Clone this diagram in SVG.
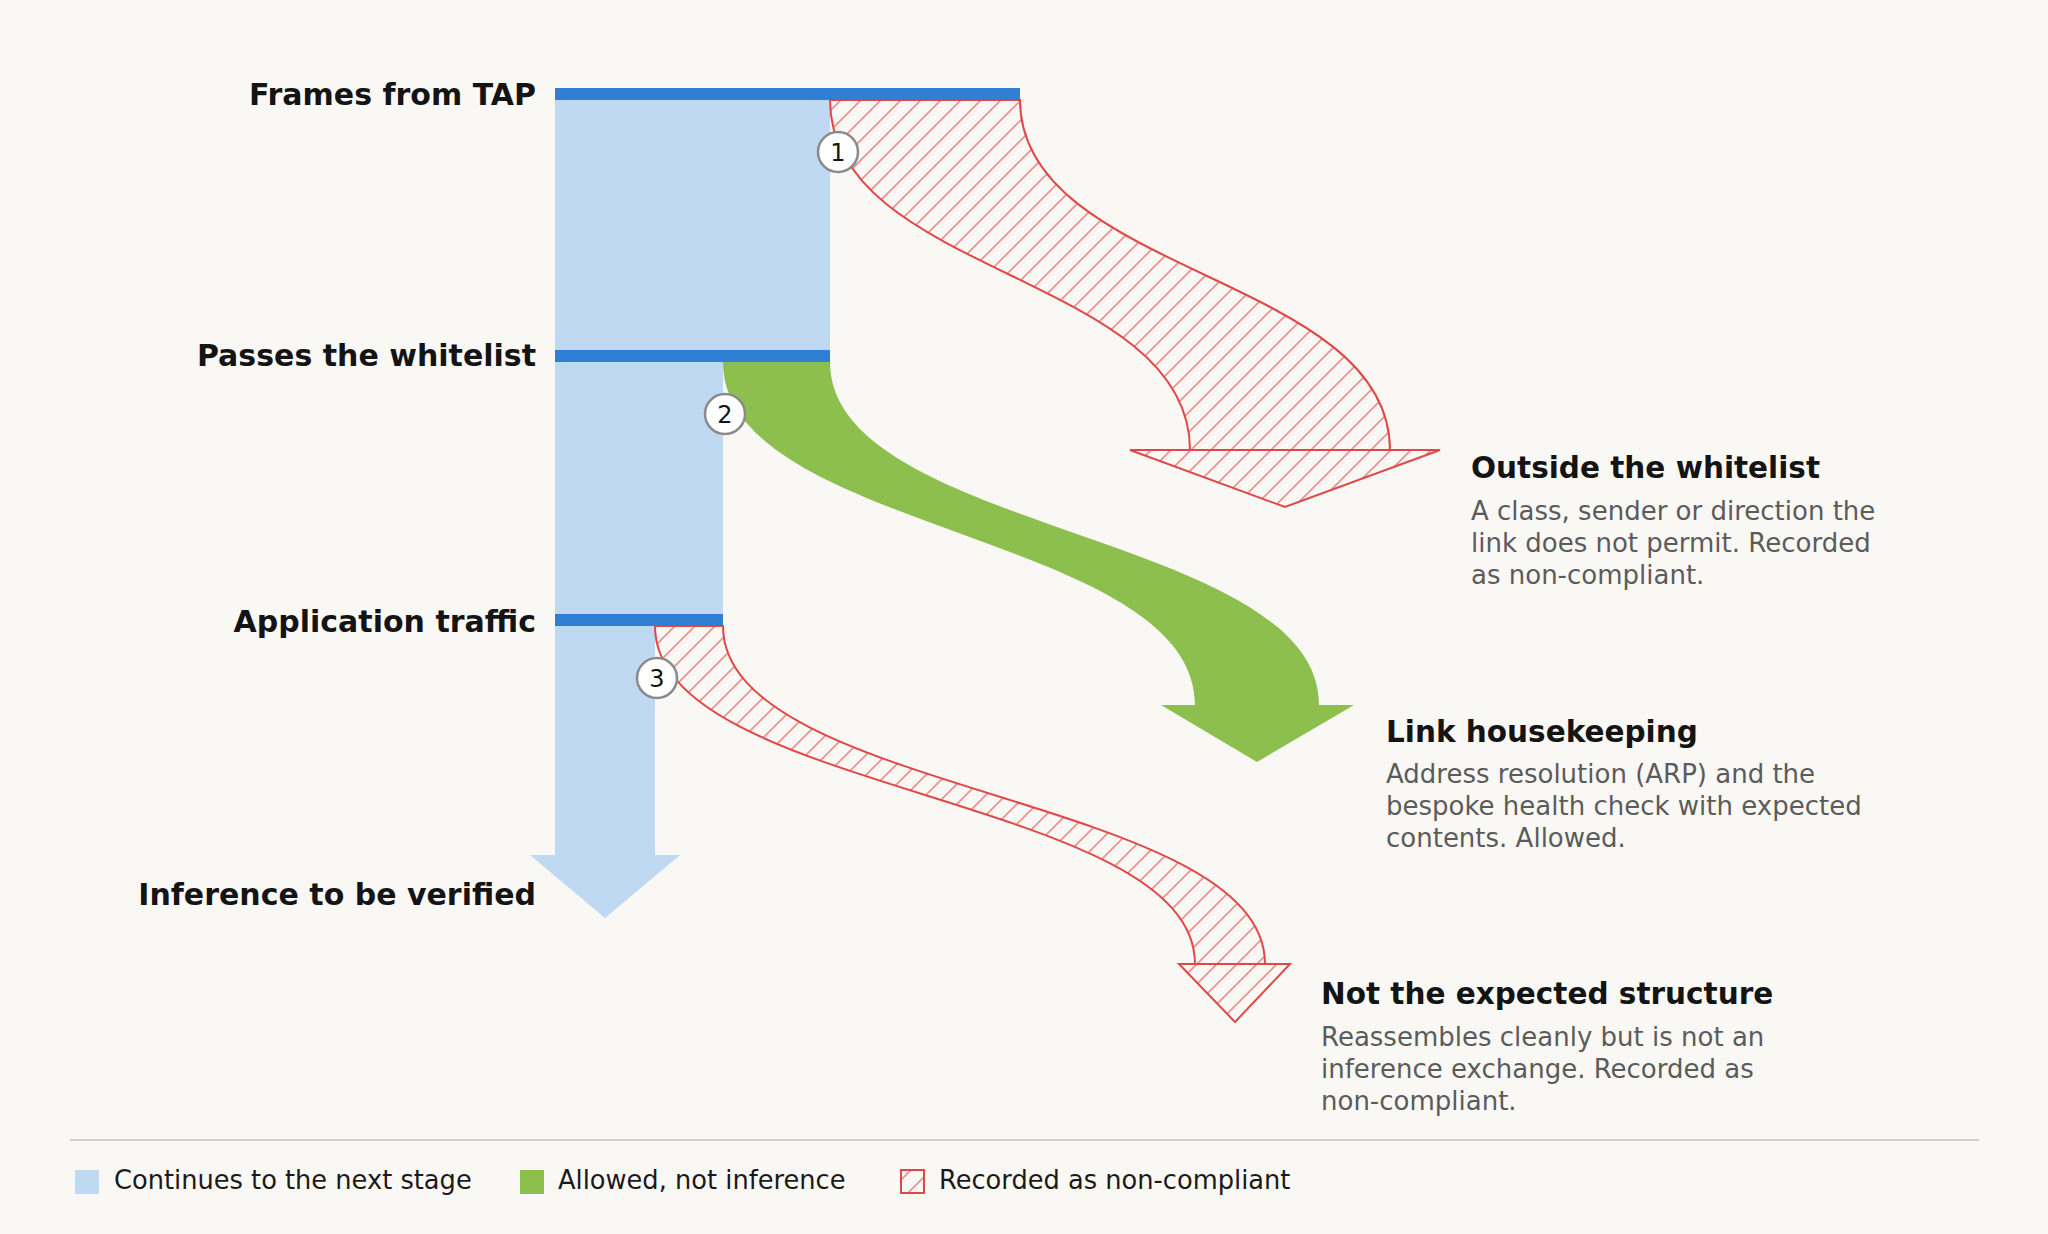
<svg xmlns="http://www.w3.org/2000/svg" width="2048" height="1234" viewBox="0 0 2048 1234">
  <defs>
    <pattern id="hatch" patternUnits="userSpaceOnUse" width="14.142" height="14.142" patternTransform="rotate(45)">
      <rect x="0" y="0" width="1.3" height="14.142" fill="#e76a6a"/>
    </pattern>
    <style>
      .lbl { font-family: "DejaVu Sans", Verdana, sans-serif; font-weight: bold; font-size: 30px; fill: #141414; }
      .title { font-family: "DejaVu Sans", Verdana, sans-serif; font-weight: bold; font-size: 29.5px; fill: #141414; }
      .desc { font-family: "DejaVu Sans", Verdana, sans-serif; font-size: 26px; fill: #5b5b5b; }
      .leg { font-family: "DejaVu Sans", Verdana, sans-serif; font-size: 25.7px; fill: #1a1a1a; }
      .num { font-family: "DejaVu Sans", Verdana, sans-serif; font-size: 24px; fill: #141414; text-anchor: middle; }
      .badge { fill: #ffffff; stroke: #8a8a8a; stroke-width: 2.5; }
      .bar { fill: #2f7fd4; }
      .pass { fill: #bfd9f3; }
      .ok { fill: #8cbf4d; }
      .bad { fill: url(#hatch); stroke: #e04848; stroke-width: 2; stroke-linejoin: miter; }
    </style>
  </defs>
  <rect x="0" y="0" width="2048" height="1234" fill="#faf8f4"/>

  <g id="connectors">
    <path id="flow-pass" class="pass" d="M555,94 L830,94 L830,356 L723,356 L723,620 L655,620 L655,855 L680,855 L605,918 L530,855 L555,855 Z"/>
    <path id="flow-outside" class="bad" d="M830,100 L1020,100 C1020,275 1390,275 1390,450 L1190,450 C1190,275 830,275 830,100 Z"/>
    <path id="arrow-outside" class="bad" d="M1130,450 L1440,450 L1285,507 Z"/>
    <path id="flow-housekeeping" class="ok" d="M723,362 L830,362 C830,533 1319,533 1319,705 L1354,705 L1257,762 L1161,705 L1195,705 C1195,533 723,533 723,362 Z"/>
    <path id="flow-structure" class="bad" d="M655,626 L723,626 C723,795 1265,795 1265,964 L1195,964 C1195,795 655,795 655,626 Z"/>
    <path id="arrow-structure" class="bad" d="M1179,964 L1290,964 L1235,1022 Z"/>
  </g>

  <g id="stage-tap">
    <rect class="bar" x="555" y="88" width="465" height="12"/>
    <text class="lbl" x="536" y="105" text-anchor="end">Frames from TAP</text>
  </g>
  <g id="stage-whitelist">
    <rect class="bar" x="555" y="350" width="275" height="12"/>
    <text class="lbl" x="536" y="366" text-anchor="end">Passes the whitelist</text>
  </g>
  <g id="stage-application">
    <rect class="bar" x="555" y="614" width="168" height="12"/>
    <text class="lbl" x="536" y="632" text-anchor="end">Application traffic</text>
  </g>
  <g id="stage-inference">
    <text class="lbl" x="536" y="905" text-anchor="end">Inference to be verified</text>
  </g>

  <g id="badge-1">
    <circle class="badge" cx="838" cy="152" r="20"/>
    <text class="num" x="838" y="160.5">1</text>
  </g>
  <g id="badge-2">
    <circle class="badge" cx="725" cy="414" r="20"/>
    <text class="num" x="725" y="422.5">2</text>
  </g>
  <g id="badge-3">
    <circle class="badge" cx="657" cy="678" r="20"/>
    <text class="num" x="657" y="686.5">3</text>
  </g>

  <g id="out-outside">
    <text class="title" x="1471" y="478">Outside the whitelist</text>
    <text class="desc" x="1471" y="520">A class, sender or direction the</text>
    <text class="desc" x="1471" y="552">link does not permit. Recorded</text>
    <text class="desc" x="1471" y="584">as non-compliant.</text>
  </g>
  <g id="out-housekeeping">
    <text class="title" x="1386" y="742">Link housekeeping</text>
    <text class="desc" x="1386" y="783">Address resolution (ARP) and the</text>
    <text class="desc" x="1386" y="815">bespoke health check with expected</text>
    <text class="desc" x="1386" y="847">contents. Allowed.</text>
  </g>
  <g id="out-structure">
    <text class="title" x="1321" y="1004">Not the expected structure</text>
    <text class="desc" x="1321" y="1046">Reassembles cleanly but is not an</text>
    <text class="desc" x="1321" y="1078">inference exchange. Recorded as</text>
    <text class="desc" x="1321" y="1110">non-compliant.</text>
  </g>

  <g id="legend">
    <line x1="70" y1="1140" x2="1979" y2="1140" stroke="#d3d1c9" stroke-width="2"/>
    <rect class="pass" x="75" y="1170" width="24" height="24"/>
    <text class="leg" x="114" y="1189">Continues to the next stage</text>
    <rect class="ok" x="520" y="1170" width="24" height="24"/>
    <text class="leg" x="558" y="1189">Allowed, not inference</text>
    <rect class="bad" x="901" y="1170" width="23" height="23"/>
    <text class="leg" x="939" y="1189">Recorded as non-compliant</text>
  </g>
</svg>
